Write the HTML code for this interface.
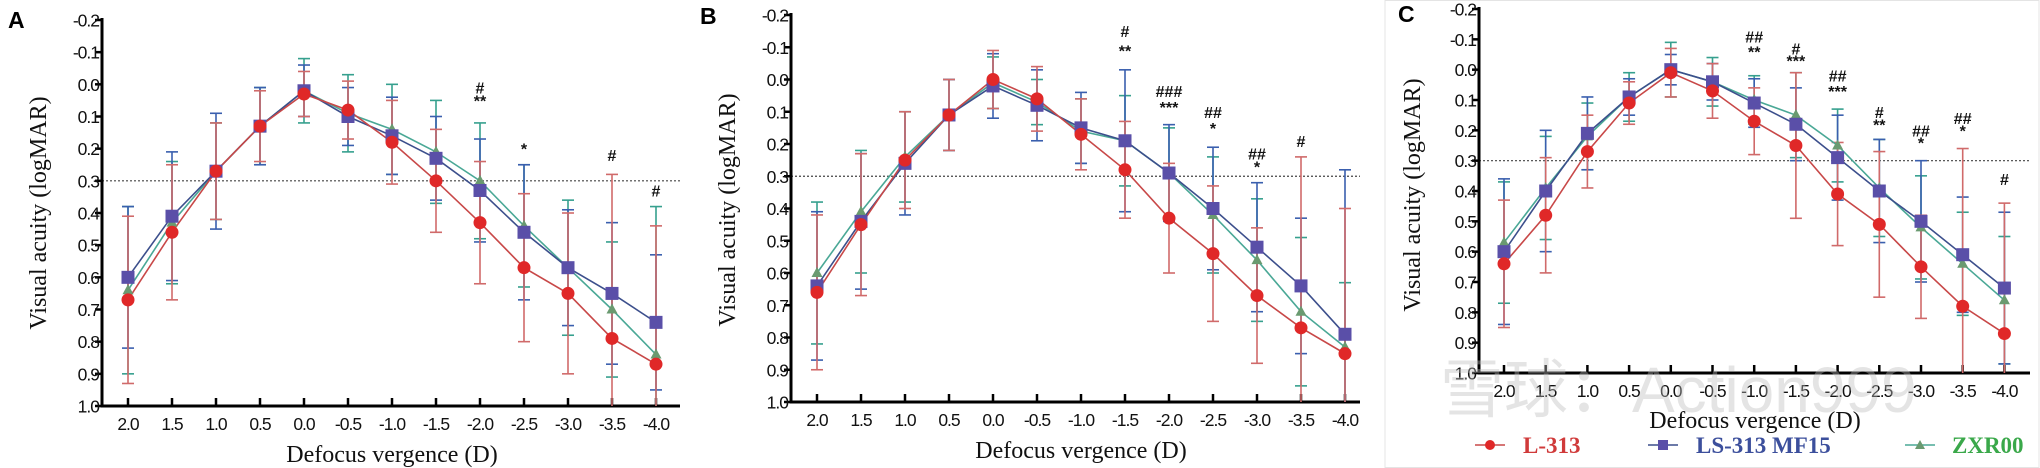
<!DOCTYPE html>
<html><head><meta charset="utf-8"><style>
html,body{margin:0;padding:0;background:#fff;}
svg{display:block;}
</style></head><body>
<svg id="fig" width="2040" height="468" viewBox="0 0 2040 468" xmlns="http://www.w3.org/2000/svg"></svg>
<script>
const categories = ["2.0","1.5","1.0","0.5","0.0","-0.5","-1.0","-1.5","-2.0","-2.5","-3.0","-3.5","-4.0"];
const yTicks = [-0.2,-0.1,0.0,0.1,0.2,0.3,0.4,0.5,0.6,0.7,0.8,0.9,1.0];
const seriesNames = ["L-313","LS-313 MF15","ZXR00"];
// Panel A
const aRed   = [0.67,0.46,0.27,0.13,0.03,0.08,0.18,0.30,0.43,0.57,0.65,0.79,0.87];
const aBlue  = [0.60,0.41,0.27,0.13,0.02,0.10,0.16,0.23,0.33,0.46,0.57,0.65,0.74];
const aGreen = [0.64,0.43,0.27,0.13,0.02,0.09,0.14,0.21,0.30,0.44,0.57,0.70,0.84];
const aRedSd   = [0.26,0.21,0.15,0.11,0.07,0.09,0.13,0.16,0.19,0.23,0.25,0.51,0.43];
const aBlueSd  = [0.22,0.20,0.18,0.12,0.08,0.09,0.12,0.13,0.16,0.21,0.18,0.22,0.21];
const aGreenSd = [0.26,0.19,0.15,0.12,0.10,0.12,0.14,0.16,0.18,0.19,0.21,0.21,0.46];
// Panel B
const bRed   = [0.66,0.45,0.25,0.11,0.00,0.06,0.17,0.28,0.43,0.54,0.67,0.77,0.85];
const bBlue  = [0.64,0.44,0.26,0.11,0.02,0.08,0.15,0.19,0.29,0.40,0.52,0.64,0.79];
const bGreen = [0.60,0.41,0.24,0.11,0.01,0.07,0.16,0.19,0.29,0.42,0.56,0.72,0.83];
const bRedSd   = [0.24,0.22,0.15,0.11,0.09,0.10,0.11,0.15,0.17,0.21,0.21,0.53,0.45];
const bBlueSd  = [0.23,0.21,0.16,0.11,0.10,0.11,0.11,0.22,0.15,0.19,0.20,0.21,0.51];
const bGreenSd = [0.22,0.19,0.14,0.11,0.08,0.07,0.10,0.14,0.14,0.18,0.19,0.23,0.20];
// Panel C
const cRed   = [0.64,0.48,0.27,0.11,0.01,0.07,0.17,0.25,0.41,0.51,0.65,0.78,0.87];
const cBlue  = [0.60,0.40,0.21,0.09,0.00,0.04,0.11,0.18,0.29,0.40,0.50,0.61,0.72];
const cGreen = [0.57,0.39,0.22,0.09,0.00,0.04,0.10,0.15,0.25,0.39,0.52,0.64,0.76];
const cRedSd   = [0.21,0.19,0.12,0.07,0.08,0.09,0.11,0.24,0.17,0.24,0.17,0.52,0.43];
const cBlueSd  = [0.24,0.20,0.12,0.06,0.05,0.06,0.08,0.12,0.14,0.17,0.20,0.19,0.25];
const cGreenSd = [0.20,0.17,0.11,0.08,0.09,0.08,0.08,0.14,0.12,0.16,0.17,0.17,0.21];
// significance annotations: category index, logMAR position, text
const aAnnIdx = [8,8,9,11,12];
const aAnnVal = [0.01,0.05,0.20,0.22,0.33];
const aAnnTxt = ["#","**","*","#","#"];
const bAnnIdx = [7,7,8,8,9,9,10,10,11];
const bAnnVal = [-0.15,-0.09,0.035,0.085,0.10,0.15,0.23,0.27,0.19];
const bAnnTxt = ["#","**","###","***","##","*","##","*","#"];
const cAnnIdx = [6,6,7,7,8,8,9,9,10,10,11,11,12];
const cAnnVal = [-0.11,-0.06,-0.07,-0.03,0.02,0.07,0.14,0.18,0.20,0.24,0.16,0.20,0.36];
const cAnnTxt = ["##","**","#","***","##","***","#","**","##","*","##","*","#"];

const NS="http://www.w3.org/2000/svg";
const svg=document.getElementById('fig');
function mk(tag,attrs,parent){const e=document.createElementNS(NS,tag);for(const k in attrs)e.setAttribute(k,attrs[k]);(parent||svg).appendChild(e);return e;}

const colors={red:{line:"#c84848",mark:"#e02828",err:"#d06a6a"},blue:{line:"#3c4f8c",mark:"#5a4fa8",err:"#3a5fae"},green:{line:"#4aa896",mark:"#6a9a70",err:"#36a08e"}};

function drawPanel(p){
  const g=mk('g',{});
  
  
  const ys=v=>p.yTop+(v+0.2)/1.2*(p.yBot-p.yTop);
  const xs=i=>p.x0+i*p.dx;
  const L=mk('text',{x:p.lx,y:p.ly,'font-family':'Liberation Sans, sans-serif','font-weight':'bold','font-size':23},g);
  L.textContent=p.key.toUpperCase();
  
  
  const ref=mk('line',{x1:p.ax,x2:p.xEnd,y1:ys(0.3),y2:ys(0.3),stroke:'#444','stroke-width':1.2,'stroke-dasharray':'2,2'},g);
  
  
  const ya=mk('line',{x1:p.ax,x2:p.ax,y1:p.yTop-2,y2:p.yBot+1.5,stroke:'#000','stroke-width':3},g);
  
  
  const xa=mk('line',{x1:p.ax-1.5,x2:p.xEnd,y1:p.yBot,y2:p.yBot,stroke:'#000','stroke-width':3},g);
  
  
  yTicks.forEach(v=>{
    mk('line',{x1:p.ax-7,x2:p.ax,y1:ys(v),y2:ys(v),stroke:'#000','stroke-width':2.5},g);
    const t=mk('text',{x:p.ax-3,y:ys(v)+6.5,'text-anchor':'end','font-family':'Liberation Sans, sans-serif','font-size':17.5,fill:'#111','letter-spacing':'-1'},g);
    t.textContent=v.toFixed(1);
    
    
  });
  categories.forEach((c,i)=>{
    mk('line',{x1:xs(i),x2:xs(i),y1:p.yBot-8,y2:p.yBot,stroke:'#000','stroke-width':2.5},g);
    const t=mk('text',{x:xs(i),y:p.yBot+24,'text-anchor':'middle','font-family':'Liberation Sans, sans-serif','font-size':17.5,fill:'#111','letter-spacing':'-1'},g);
    t.textContent=c;
    
    
  });
  const yt=mk('text',{x:0,y:0,transform:`translate(${p.ytx},${p.yty}) rotate(-90)`,'text-anchor':'middle','font-family':'Liberation Serif, serif','font-size':24,fill:'#111'},g);
  yt.textContent='Visual acuity (logMAR)';
  
  
  const xt=mk('text',{x:p.xtx,y:p.xty,'text-anchor':'middle','font-family':'Liberation Serif, serif','font-size':24,fill:'#111'},g);
  xt.textContent='Defocus  vergence (D)';
  
  
  const order=[['green',p.green,p.greenSd],['blue',p.blue,p.blueSd],['red',p.red,p.redSd]];
  order.forEach(([c,vals,sd])=>{
    vals.forEach((v,i)=>{
      const lo=Math.min(v+sd[i],1.0), hi=v-sd[i];
      const eb=mk('g',{},g);
      
      
      mk('line',{x1:xs(i),x2:xs(i),y1:ys(hi),y2:ys(lo),stroke:colors[c].err,'stroke-width':1.6},eb);
      mk('line',{x1:xs(i)-6,x2:xs(i)+6,y1:ys(hi),y2:ys(hi),stroke:colors[c].err,'stroke-width':1.6},eb);
      if(v+sd[i]<1.0) mk('line',{x1:xs(i)-6,x2:xs(i)+6,y1:ys(lo),y2:ys(lo),stroke:colors[c].err,'stroke-width':1.6},eb);
    });
  });
  order.forEach(([c,vals])=>{
    const pl=mk('polyline',{points:vals.map((v,i)=>xs(i)+','+ys(v)).join(' '),fill:'none',stroke:colors[c].line,'stroke-width':1.6},g);
    
    
  });
  order.forEach(([c,vals])=>{
    vals.forEach((v,i)=>{
      let m;
      if(c==='red') m=mk('circle',{cx:xs(i),cy:ys(v),r:6.5,fill:colors.red.mark},g);
      else if(c==='blue') m=mk('rect',{x:xs(i)-6.5,y:ys(v)-6.5,width:13,height:13,fill:colors.blue.mark},g);
      else m=mk('polygon',{points:`${xs(i)},${ys(v)-6} ${xs(i)-5.5},${ys(v)+4} ${xs(i)+5.5},${ys(v)+4}`,fill:colors.green.mark},g);
      
      
    });
  });
  p.annIdx.forEach((ci,k)=>{
    const t=mk('text',{x:xs(ci),y:ys(p.annVal[k])+6,'text-anchor':'middle','font-family':'Liberation Sans, sans-serif','font-size':16,'font-weight':'bold',fill:'#111'},g);
    t.textContent=p.annTxt[k];
    
    
  });
}

drawPanel({key:'a',ax:102,xEnd:680,yTop:20,yBot:406,x0:128,dx:44,lx:8,ly:28,ytx:46,yty:213,xtx:392,xty:462,
  red:aRed,blue:aBlue,green:aGreen,redSd:aRedSd,blueSd:aBlueSd,greenSd:aGreenSd,annIdx:aAnnIdx,annVal:aAnnVal,annTxt:aAnnTxt});
drawPanel({key:'b',ax:791,xEnd:1360,yTop:15,yBot:402,x0:817,dx:44,lx:700,ly:24,ytx:735,yty:210,xtx:1081,xty:458,
  red:bRed,blue:bBlue,green:bGreen,redSd:bRedSd,blueSd:bBlueSd,greenSd:bGreenSd,annIdx:bAnnIdx,annVal:bAnnVal,annTxt:bAnnTxt});
const bd=mk('rect',{x:1385,y:0.5,width:654,height:467,fill:'none',stroke:'#e4e4e4','stroke-width':1});


drawPanel({key:'c',ax:1479,xEnd:2030,yTop:9,yBot:373,x0:1504,dx:41.7,lx:1398,ly:22,ytx:1420,yty:195,xtx:1755,xty:428,
  red:cRed,blue:cBlue,green:cGreen,redSd:cRedSd,blueSd:cBlueSd,greenSd:cGreenSd,annIdx:cAnnIdx,annVal:cAnnVal,annTxt:cAnnTxt});

const legX=[1475,1648,1905], legTx=[1523,1696,1952];
const legFill=['#d03a3a','#3c4f9c','#3aa84a'];
const legKeys=['red','blue','green'];
seriesNames.forEach((n,k)=>{
  const lg=mk('g',{});
  
  
  const c=legKeys[k], cx=legX[k]+15, cy=445;
  mk('line',{x1:legX[k],x2:legX[k]+30,y1:cy,y2:cy,stroke:colors[c].line,'stroke-width':1.6},lg);
  if(c==='red') mk('circle',{cx:cx,cy:cy,r:5,fill:colors.red.mark},lg);
  else if(c==='blue') mk('rect',{x:cx-5,y:cy-5,width:10,height:10,fill:colors.blue.mark},lg);
  else mk('polygon',{points:`${cx},${cy-5} ${cx-5},${cy+4} ${cx+5},${cy+4}`,fill:colors.green.mark},lg);
  const t=mk('text',{x:legTx[k],y:cy+8,'font-family':'Liberation Serif, serif','font-size':23,'font-weight':'bold',fill:legFill[k]},lg);
  t.textContent=n;
});
const wm=mk('text',{x:1440,y:412,'font-family':'Liberation Sans, Noto Sans CJK SC, sans-serif','font-size':64,fill:'#bbbbbb','fill-opacity':0.4});
wm.textContent='雪球：Action999';


</script>
</body></html>
